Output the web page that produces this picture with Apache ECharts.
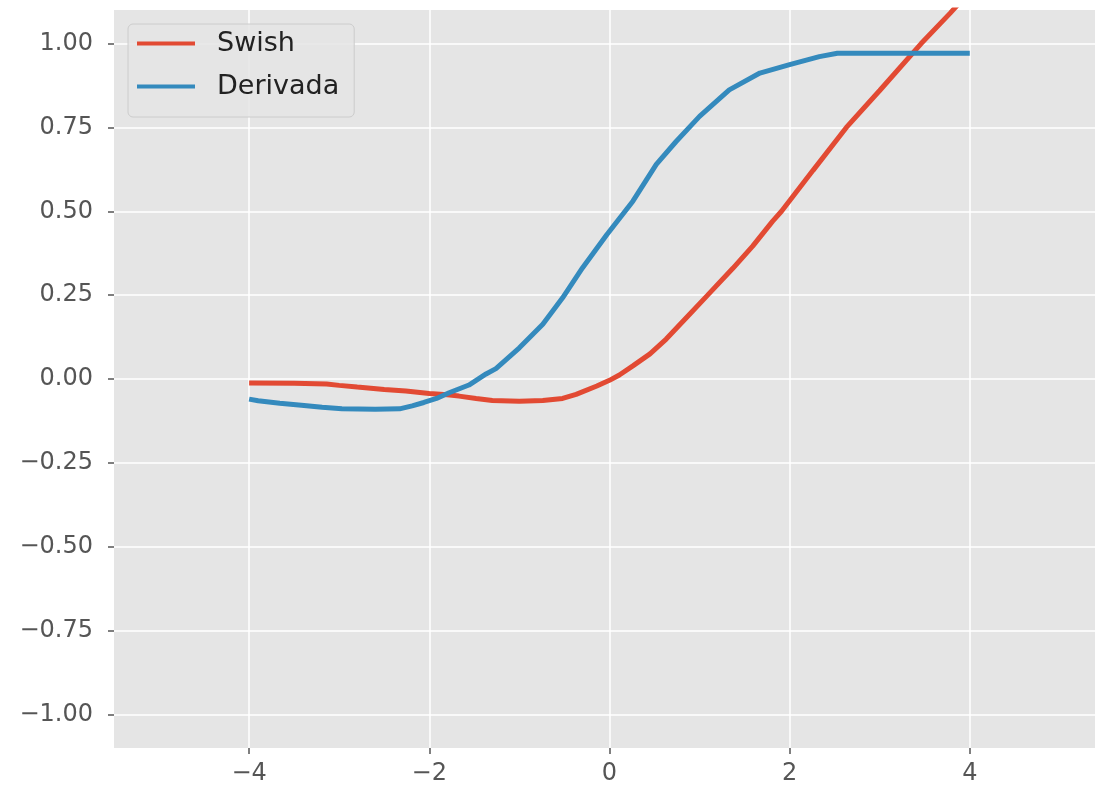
<!DOCTYPE html>
<html>
<head>
<meta charset="utf-8">
<script src="https://cdn.jsdelivr.net/npm/echarts@6/dist/echarts.min.js"></script>
<style>html,body{margin:0;padding:0;background:#fff;}#c{width:1095px;height:791px;}</style>
</head>
<body>
<div id="c"></div>
<script>
const swishX = [-4, -3.5, -3.14, -3.0, -2.8, -2.5, -2.26, -2.0, -1.8, -1.67, -1.48, -1.3, -1.0, -0.74, -0.52, -0.37, -0.14, 0, 0.11, 0.26, 0.45, 0.63, 0.89, 1.09, 1.37, 1.59, 1.81, 1.91, 2.26, 2.63, 3.0, 3.46, 3.78, 4.0];
const swishY = [-0.012, -0.013, -0.015, -0.019, -0.024, -0.031, -0.036, -0.043, -0.047, -0.051, -0.058, -0.064, -0.066, -0.064, -0.058, -0.046, -0.021, -0.004, 0.012, 0.039, 0.075, 0.119, 0.193, 0.25, 0.33, 0.396, 0.47, 0.50, 0.622, 0.75, 0.86, 1.0, 1.09, 1.155];
const derivX = [-4, -3.9, -3.66, -3.42, -3.19, -2.97, -2.6, -2.33, -2.19, -2.06, -1.92, -1.78, -1.56, -1.37, -1.26, -1.0, -0.74, -0.52, -0.30, -0.03, 0.26, 0.52, 0.74, 1.0, 1.33, 1.67, 2.0, 2.33, 2.53, 4.0];
const derivY = [-0.060, -0.065, -0.072, -0.078, -0.084, -0.089, -0.090, -0.089, -0.080, -0.070, -0.058, -0.041, -0.018, 0.015, 0.031, 0.093, 0.163, 0.242, 0.331, 0.43, 0.53, 0.64, 0.708, 0.783, 0.862, 0.912, 0.937, 0.961, 0.971, 0.971];
const xTicks = [-4, -2, 0, 2, 4];
const yTicks = [-1, -0.75, -0.5, -0.25, 0, 0.25, 0.5, 0.75, 1];

const fmt = v => (v < 0 ? '\u2212' : '') + Math.abs(v).toFixed(2);
const fmtX = v => (v < 0 ? '\u2212' : '') + Math.abs(v);
const font = 'DejaVu Sans';

const chart = echarts.init(document.getElementById('c'), null, {renderer: 'canvas'});
chart.setOption({
  animation: false,
  backgroundColor: '#ffffff',
  grid: {left: 114, right: 0, top: 10, bottom: 43, show: true, backgroundColor: '#E5E5E5', borderWidth: 0},
  xAxis: {
    type: 'value', min: -5.5, max: 5.39,
    axisLine: {show: true, onZero: false, lineStyle: {color: 'rgba(0,0,0,0)'}},
    axisTick: {show: true, length: 6, inside: false, lineStyle: {color: '#555555', width: 1.5}, customValues: xTicks},
    axisLabel: {customValues: xTicks, formatter: fmtX, color: '#555555', fontSize: 24, fontFamily: font, margin: 14},
    splitLine: {show: true, lineStyle: {color: '#ffffff', width: 1.5}}
  },
  yAxis: {
    type: 'value', min: -1.1, max: 1.1,
    axisLine: {show: true, onZero: false, lineStyle: {color: 'rgba(0,0,0,0)'}},
    axisTick: {show: true, length: 6, lineStyle: {color: '#555555', width: 1.5}, customValues: yTicks},
    axisLabel: {customValues: yTicks, formatter: fmt, color: '#555555', fontSize: 24, fontFamily: font, margin: 21},
    splitLine: {show: true, lineStyle: {color: '#ffffff', width: 1.5}}
  },
  legend: {
    left: 128, top: 24, orient: 'vertical',
    icon: 'rect', itemWidth: 58, itemHeight: 4, itemGap: 16,
    padding: [6, 15, 17, 9],
    backgroundColor: 'rgba(229,229,229,0.85)', borderColor: '#cccccc', borderWidth: 1, borderRadius: 5,
    textStyle: {fontSize: 27, fontFamily: font, color: '#222222', padding: [0, 0, 0, 17]},
    data: ['Swish', 'Derivada']
  },
  series: [
    {name: 'Swish', type: 'line', data: swishX.map((x, i) => [x, swishY[i]]), showSymbol: false, symbol: 'none', color: '#E24A33', lineStyle: {width: 5, color: '#E24A33'}, clip: true},
    {name: 'Derivada', type: 'line', data: derivX.map((x, i) => [x, derivY[i]]), showSymbol: false, symbol: 'none', color: '#348ABD', lineStyle: {width: 5, color: '#348ABD'}, clip: true}
  ]
});
</script>
</body>
</html>
